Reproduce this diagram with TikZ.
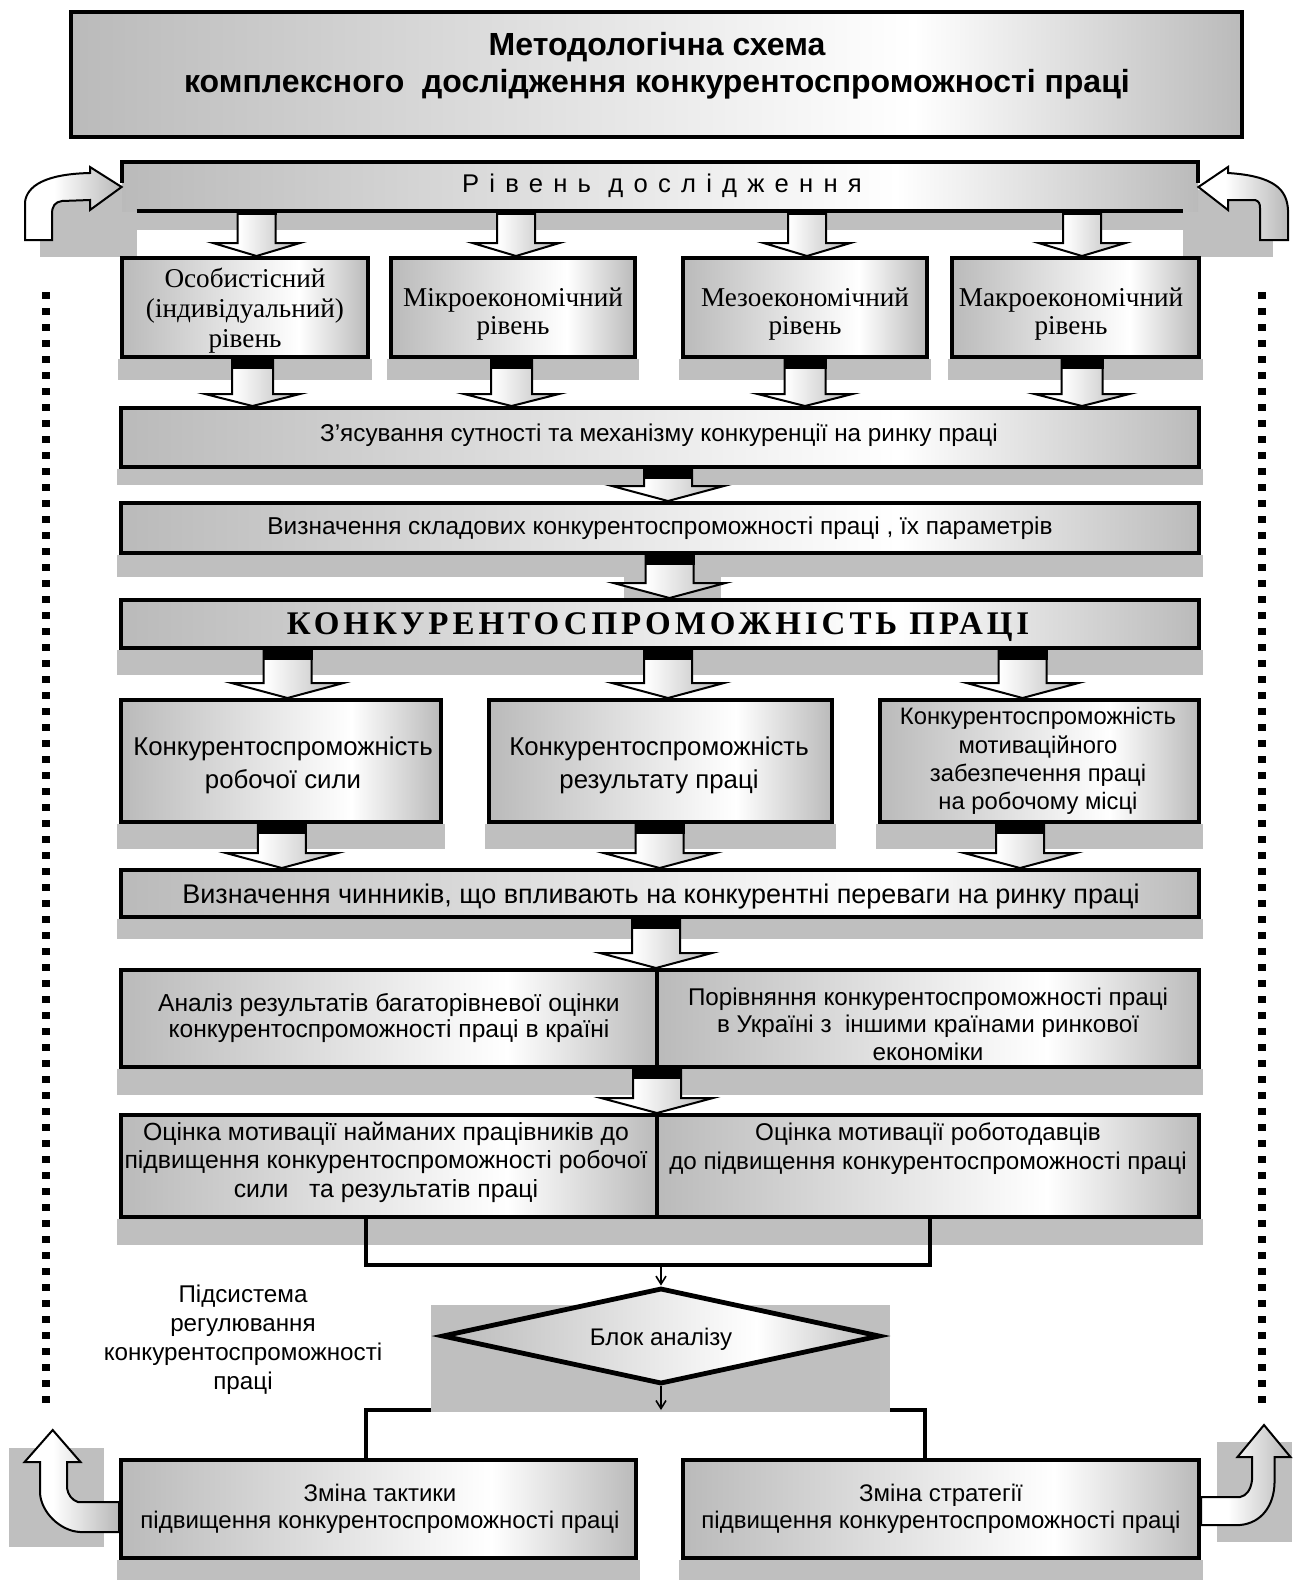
\documentclass[tikz,border=0pt]{standalone}
\usepackage{fontspec}
\setmainfont{Liberation Sans}
\newfontfamily\serifcyr{Liberation Serif}
\usetikzlibrary{calc,fit,shapes.geometric,arrows.meta}
\pgfdeclarelayer{bg}
\pgfsetlayers{bg,main}
\definecolor{shgray}{gray}{0.75}
\definecolor{bxgray}{gray}{0.73}
\definecolor{argray}{gray}{0.72}
% grey -> white -> grey fill of the boxes
\pgfdeclarehorizontalshading{boxgrad}{100bp}{color(0bp)=(bxgray); color(25bp)=(bxgray); color(61bp)=(white); color(75bp)=(bxgray); color(100bp)=(bxgray)}
% white -> grey fill of the block arrows
\pgfdeclarehorizontalshading{arrgrad}{100bp}{color(0bp)=(white); color(40bp)=(white); color(75bp)=(argray); color(100bp)=(argray)}
\newcommand\fsz[2]{\fontsize{#1}{#2}\selectfont}
% block arrow: #1 start point, #2 tip point (y only), #3 half shaft, #4 half head, #5 head length
\newcommand\barrow[5]{%
  \path[barr] let \p1=#1, \p2=#2 in
    (\x1-#3,\y1) -- (\x1+#3,\y1) -- (\x1+#3,\y2+#5) -- (\x1+#4,\y2+#5)
    -- (\x1,\y2) -- (\x1-#4,\y2+#5) -- (\x1-#3,\y2+#5) -- cycle;}
% black band where an arrow leaves a box: #1 point, #2 half shaft, #3 depth
\newcommand\bcap[3]{%
  \fill let \p1=#1 in (\x1-#2-0.5pt,\y1) rectangle (\x1+#2+0.5pt,\y1-#3);}
% grey drop shade under a box (or a pair of boxes)
\newcommand\dropshade[3]{%
  \fill[shgray] ([xshift=-1pt]#1.south west) rectangle ([xshift=1pt,yshift=-#3]#2.south east);}
\tikzset{
  box/.style={draw, line width=2pt, shade, shading=boxgrad, inner sep=0pt},
  txt/.style={align=center, inner sep=0pt},
  barr/.style={draw, line width=1pt, shade, shading=arrgrad},
  bent/.style={draw, line width=1pt, shade, shading=arrgrad},
  conn/.style={line width=2pt},
  thinarr/.style={line width=0.8pt, -{Straight Barb[length=4pt,width=5pt]}},
  dotline/.style={line width=4pt, dash pattern=on 3.7pt off 4.3pt},
}
\begin{document}
\begin{tikzpicture}[x=0.5pt,y=-0.5pt]
\useasboundingbox (0,0) rectangle (1292,1580);

% ---------- boxes ----------
\node[box, fit={(71,12) (1242,137)}] (title) {};
\node[fit={(122,162) (1198,211)}, inner sep=0pt, shade, shading=boxgrad] (band) {};
\node[box, fit={(122,258) (368,357)}] (lvl1) {};
\node[box, fit={(391,258) (635,357)}] (lvl2) {};
\node[box, fit={(683,258) (927,357)}] (lvl3) {};
\node[box, fit={(952,258) (1199,357)}] (lvl4) {};
\node[box, fit={(121,408) (1199,467)}] (zsv) {};
\node[box, fit={(121,503) (1199,553)}] (vsk) {};
\node[box, fit={(121,600) (1199,648)}] (kon) {};
\node[box, fit={(121,700) (441,822)}] (r1) {};
\node[box, fit={(489,700) (832,822)}] (r2) {};
\node[box, fit={(880,700) (1199,822)}] (r3) {};
\node[box, fit={(121,870) (1199,917)}] (vch) {};
\node[box, fit={(121,970) (657,1067)}] (s1l) {};
\node[box, fit={(657,970) (1199,1067)}] (s1r) {};
\node[box, fit={(121,1115) (657,1217)}] (s2l) {};
\node[box, fit={(657,1115) (1199,1217)}] (s2r) {};
\node[diamond, draw, line width=2.4pt, shade, shading=boxgrad, minimum width=219pt,
      minimum height=48pt, inner sep=0pt] (bl) at (661,1336) {};
\node[box, fit={(121,1460) (636,1558)}] (z1) {};
\node[box, fit={(683,1460) (1199,1558)}] (z2) {};

% band outline and its underline
\draw[line width=2pt] ([yshift=-10.5pt]band.north west) -- (band.north west)
  -- (band.north east) -- ([yshift=-10.5pt]band.north east);
\draw[line width=2pt] ([xshift=7.5pt]band.south west) -- ([xshift=-7.5pt]band.south east);

% ---------- texts ----------
\node[txt, font={\bfseries\fsz{16}{18.5}}] (ttitle) at (657,66)
  {Методологічна схема\\комплексного\ \ дослідження конкурентоспроможності праці};
\node[txt, font={\fsz{12.8}{15}\addfontfeature{LetterSpace=40}}] (tband) at (662,186)
  {Рівень дослідження};
\node[txt, font={\serifcyr\fsz{13.6}{15}}] (tl1) at (245,311) {Особистісний\\(індивідуальний)\\рівень};
\node[txt, font={\serifcyr\fsz{13.6}{14}}] (tl2) at (513,314) {Мікроекономічний\\рівень};
\node[txt, font={\serifcyr\fsz{13.6}{14}}] (tl3) at (805,314) {Мезоекономічний\\рівень};
\node[txt, font={\serifcyr\fsz{13.6}{14}}] (tl4) at (1071,314) {Макроекономічний\\рівень};
\node[txt, font={\fsz{12.15}{14}}] (tzsv) at (659,435)
  {З’ясування сутності та механізму конкуренції на ринку праці};
\node[txt, font={\fsz{12.2}{14}}] (tvsk) at (660,528)
  {Визначення складових конкурентоспроможності праці , їх параметрів};
\node[txt, font={\serifcyr\bfseries\fsz{16.5}{18}\addfontfeature{LetterSpace=12}}] (tkon) at (658,627)
  {КОНКУРЕНТОСПРОМОЖНІСТЬ ПРАЦІ};
\node[txt, font={\fsz{12.9}{16.5}}] (tr1) at (283,765) {Конкурентоспроможність\\робочої сили};
\node[txt, font={\fsz{12.9}{16.5}}] (tr2) at (659,765) {Конкурентоспроможність\\результату праці};
\node[txt, font={\fsz{11.9}{14.15}}] (tr3) at (1038,761)
  {Конкурентоспроможність\\мотиваційного\\забезпечення праці\\на робочому місці};
\node[txt, font={\fsz{13.5}{15}}] (tvch) at (661,897)
  {Визначення чинників, що впливають на конкурентні переваги на ринку праці};
\node[txt, font={\fsz{12.3}{12.8}}] (ts1l) at (389,1018)
  {Аналіз результатів багаторівневої оцінки\\конкурентоспроможності праці в країні};
\node[txt, font={\fsz{12.1}{13.75}}] (ts1r) at (928,1024)
  {Порівняння конкурентоспроможності праці\\в Україні з\ \ іншими країнами ринкової\\економіки};
\node[txt, font={\fsz{12.4}{14.25}}] (ts2l) at (386,1162)
  {Оцінка мотивації найманих працівників до\\підвищення конкурентоспроможності робочої\\сили\ \ \ та результатів праці};
\node[txt, font={\fsz{12.1}{14.5}}] (ts2r) at (928,1149)
  {Оцінка мотивації роботодавців\\до підвищення конкурентоспроможності праці};
\node[txt, font={\fsz{12}{14}}] (tbl) at ([yshift=-1.5pt]bl.center) {Блок аналізу};
\node[txt, font={\fsz{12.1}{14.5}}] (tsub) at (243,1340)
  {Підсистема\\регулювання\\конкурентоспроможності\\праці};
\node[txt, font={\fsz{12}{13.5}}] (tz1) at (380,1509)
  {Зміна тактики\\підвищення конкурентоспроможності праці};
\node[txt, font={\fsz{12}{13.5}}] (tz2) at (941,1509)
  {Зміна стратегії\\підвищення конкурентоспроможності праці};

% ---------- connectors to the analysis block ----------
\coordinate (tee) at (661,1265);
\coordinate (fork) at (661,1410);
\draw[conn] (366,0 |- s2l.south) |- (tee) -| (930,0 |- s2r.south);
\draw[thinarr] (tee) -- (bl.north);
\draw[thinarr] (bl.south) -- (fork);

% ---------- drop shades and grey panels ----------
\begin{pgfonlayer}{bg}
  \fill[shgray] (band.south west) rectangle ([yshift=-9.5pt]band.south east);
  \fill[shgray] (40,185) rectangle (137,257);
  \fill[shgray] (1183,190) rectangle (1273,257);
  \dropshade{lvl1}{lvl1}{10.5pt}
  \dropshade{lvl2}{lvl2}{10.5pt}
  \dropshade{lvl3}{lvl3}{10.5pt}
  \dropshade{lvl4}{lvl4}{10.5pt}
  \dropshade{zsv}{zsv}{8pt}
  \dropshade{vsk}{vsk}{11pt}
  \fill[shgray] (624,575) rectangle (721,605);
  \dropshade{kon}{kon}{12.5pt}
  \dropshade{r1}{r1}{12.5pt}
  \dropshade{r2}{r2}{12.5pt}
  \dropshade{r3}{r3}{12.5pt}
  \dropshade{vch}{vch}{10pt}
  \dropshade{s1l}{s1r}{13pt}
  \dropshade{s2l}{s2r}{13pt}
  \draw[conn] (366,0 |- z1.north) |- (fork) -| (925,0 |- z2.north);
  \fill[shgray] (431,1305) rectangle (890,1412);
  \dropshade{z1}{z1}{11pt}
  \dropshade{z2}{z2}{11pt}
  \fill[shgray] (9,1448) rectangle (104,1547);
  \fill[shgray] (1217,1442) rectangle (1292,1542);
\end{pgfonlayer}

% ---------- block arrows ----------
% band -> levels
\foreach \xx/\tg in {256.5/lvl1, 516/lvl2, 807/lvl3, 1082/lvl4}{
  \barrow{(band.south -| \xx,0)}{(\tg.north)}{9.5pt}{21.75pt}{6.5pt}
  \bcap{(band.south -| \xx,0)}{9.5pt}{2pt}
}
% levels -> first stage
\foreach \xx/\sr in {252.5/lvl1, 511.5/lvl2, 805/lvl3, 1082/lvl4}{
  \barrow{(\sr.south -| \xx,0)}{(zsv.north)}{10.25pt}{23.75pt}{6pt}
  \bcap{(\sr.south -| \xx,0)}{10.25pt}{5pt}
}
% chain of stages
\barrow{(zsv.south -| 668,0)}{(vsk.north)}{12pt}{28pt}{7.5pt}
\bcap{(zsv.south -| 668,0)}{12pt}{5pt}
\barrow{(vsk.south -| 669.5,0)}{(kon.north)}{12pt}{28pt}{7.5pt}
\bcap{(vsk.south -| 669.5,0)}{12pt}{5pt}
\foreach \xx/\tg in {287.5/r1, 668/r2, 1022.5/r3}{
  \barrow{(kon.south -| \xx,0)}{(\tg.north)}{12pt}{28pt}{7.5pt}
  \bcap{(kon.south -| \xx,0)}{12pt}{5pt}
}
\foreach \xx/\sr in {281.8/r1, 659.6/r2, 1020/r3}{
  \barrow{(\sr.south -| \xx,0)}{(vch.north)}{12pt}{28pt}{7.5pt}
  \bcap{(\sr.south -| \xx,0)}{12pt}{5pt}
}
\barrow{(vch.south -| 656,0)}{(s1l.north)}{12pt}{28pt}{7.5pt}
\bcap{(vch.south -| 656,0)}{12pt}{5pt}
\barrow{(s1l.south -| 657,0)}{(s2l.north)}{12pt}{28pt}{7.5pt}
\bcap{(s1l.south -| 657,0)}{12pt}{5pt}

% ---------- bent feedback arrows ----------
\path[bent] (25,240) -- (25,202) .. controls (27,186) and (45,174) .. (90,173)
  -- (90,167) -- (band.west |- 0,187) -- (90,210) -- (90,200) -- (62,201)
  .. controls (55,202) and (52,206) .. (52,214) -- (52,240) -- cycle;
\path[bent] (1288,240) -- (1288,210) .. controls (1287,190) and (1275,176) .. (1228,173)
  -- (1228,167) -- (band.east |- 0,187) -- (1228,210) -- (1228,200) -- (1255,200)
  .. controls (1259,201) and (1260,204) .. (1260,208) -- (1260,240) -- cycle;
\path[bent] (z1.west |- 0,1532) -- (80,1532) .. controls (60,1531) and (41,1512) .. (40,1493)
  -- (40,1462) -- (24.6,1462) -- (52.7,1430) -- (80.5,1462) -- (67,1462) -- (67,1488)
  .. controls (68,1495) and (72,1500) .. (78,1502) -- (z1.west |- 0,1502) -- cycle;
\path[bent] (z2.east |- 0,1525) -- (1240,1525) .. controls (1262,1523) and (1274,1505) .. (1274.5,1483)
  -- (1274.5,1457) -- (1290.5,1457) -- (1264,1425) -- (1237.5,1457) -- (1252,1457) -- (1252,1480)
  .. controls (1251,1490) and (1246,1496) .. (1240,1497) -- (z2.east |- 0,1497) -- cycle;

% ---------- dotted side rails ----------
\draw[dotline] (46,292) -- (46,1403);
\draw[dotline] (1262,292) -- (1262,1403);
\end{tikzpicture}
\end{document}
